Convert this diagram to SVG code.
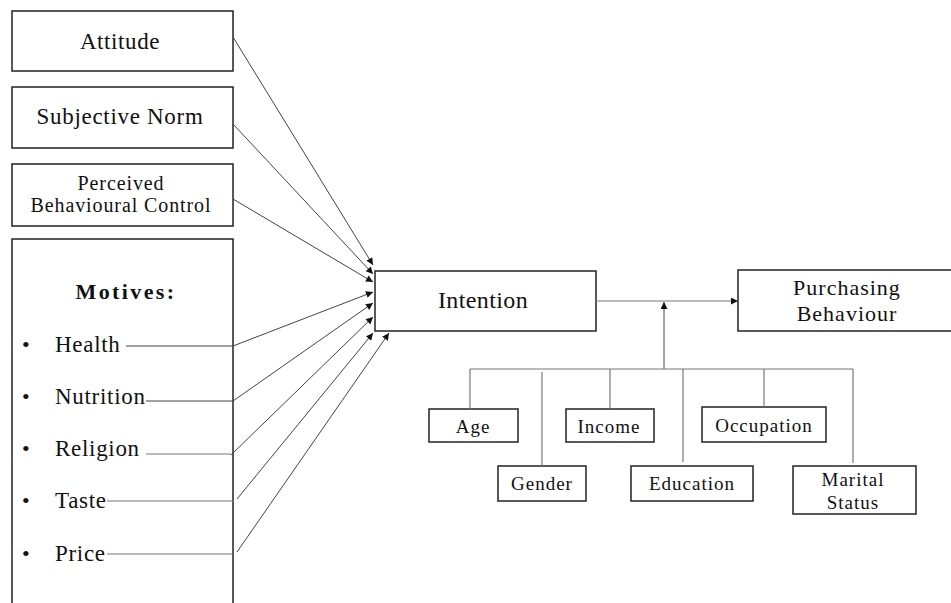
<svg xmlns="http://www.w3.org/2000/svg" width="951" height="603" viewBox="0 0 951 603">
<defs>
<style>
.box{fill:#fff;stroke:#222;stroke-width:1.5}
.t{font-family:"Liberation Serif","Times New Roman",serif;fill:#111;text-anchor:middle}
.l{font-family:"Liberation Serif","Times New Roman",serif;fill:#111;font-size:23px;letter-spacing:0.7px}
.s{font-size:19px;letter-spacing:1px}
.c{fill:none;stroke:#444;stroke-width:1}
.g{fill:none;stroke:#777;stroke-width:1.2}
</style>
<marker id="ah" viewBox="0 0 10 10" refX="10" refY="5" markerWidth="9" markerHeight="7" markerUnits="userSpaceOnUse" orient="auto">
<path d="M0,0 L10,5 L0,10 z" fill="#111"/>
</marker>
</defs>
<rect width="951" height="603" fill="#fff"/>

<g id="attitude">
<rect class="box" x="12" y="11" width="221" height="60"/>
<text class="t" x="120" y="49" font-size="23" letter-spacing="0.6">Attitude</text>
</g>
<g id="subjective-norm">
<rect class="box" x="12" y="87" width="221" height="61"/>
<text class="t" x="120" y="124" font-size="23" letter-spacing="0.7">Subjective Norm</text>
</g>
<g id="pbc">
<rect class="box" x="12" y="164" width="221" height="62"/>
<text class="t" x="121" y="190" font-size="20" letter-spacing="0.9">Perceived</text>
<text class="t" x="121" y="212" font-size="20" letter-spacing="0.9">Behavioural Control</text>
</g>
<g id="motives">
<rect class="box" x="12" y="239" width="221" height="380"/>
<text class="t" x="126" y="299" font-size="22" font-weight="bold" letter-spacing="2.4">Motives:</text>
<g font-family="Liberation Serif, serif" font-size="22" fill="#111">
<text x="22" y="352">•</text>
<text x="22" y="404">•</text>
<text x="22" y="456">•</text>
<text x="22" y="508">•</text>
<text x="22" y="561">•</text>
</g>
<text class="l" x="55" y="352">Health</text>
<text class="l" x="55" y="404">Nutrition</text>
<text class="l" x="55" y="456">Religion</text>
<text class="l" x="55" y="508">Taste</text>
<text class="l" x="55" y="561">Price</text>
</g>
<g id="intention">
<rect class="box" x="375" y="271" width="221" height="60"/>
<text class="t" x="483" y="308" font-size="24" letter-spacing="0.4">Intention</text>
</g>
<g id="purchasing-behaviour">
<rect class="box" x="738" y="270" width="220" height="61"/>
<text class="t" x="847" y="295" font-size="22" letter-spacing="1">Purchasing</text>
<text class="t" x="847" y="321" font-size="22" letter-spacing="1">Behaviour</text>
</g>
<g id="age">
<rect class="box" x="429" y="409" width="89" height="33"/>
<text class="t s" x="473" y="433">Age</text>
</g>
<g id="income">
<rect class="box" x="566" y="409" width="88" height="33"/>
<text class="t s" x="609" y="433">Income</text>
</g>
<g id="occupation">
<rect class="box" x="702" y="407" width="124" height="35"/>
<text class="t s" x="764" y="432">Occupation</text>
</g>
<g id="gender">
<rect class="box" x="498" y="466" width="88" height="35"/>
<text class="t s" x="542" y="490">Gender</text>
</g>
<g id="education">
<rect class="box" x="631" y="466" width="122" height="35"/>
<text class="t s" x="692" y="490">Education</text>
</g>
<g id="marital-status">
<rect class="box" x="793" y="466" width="123" height="48"/>
<text class="t s" x="853" y="486">Marital</text>
<text class="t s" x="853" y="509">Status</text>
</g>

<g id="connectors">
<line class="c" x1="233" y1="37" x2="373" y2="265" marker-end="url(#ah)"/>
<line class="c" x1="233" y1="124" x2="373" y2="274" marker-end="url(#ah)"/>
<line class="c" x1="233" y1="199" x2="373" y2="282" marker-end="url(#ah)"/>
<line class="c" x1="126" y1="346" x2="233" y2="346"/>
<line class="c" x1="233" y1="346" x2="373" y2="292" marker-end="url(#ah)"/>
<line class="c" x1="146" y1="401" x2="233" y2="401"/>
<line class="c" x1="233" y1="401" x2="373" y2="303" marker-end="url(#ah)"/>
<line class="g" x1="146" y1="454" x2="231" y2="454"/>
<line class="c" x1="231" y1="455" x2="373" y2="317" marker-end="url(#ah)"/>
<line class="g" x1="107" y1="501" x2="233" y2="501"/>
<line class="c" x1="237" y1="499" x2="373" y2="333" marker-end="url(#ah)"/>
<line class="g" x1="107" y1="554" x2="233" y2="554"/>
<line class="c" x1="237" y1="552" x2="389" y2="333" marker-end="url(#ah)"/>
<line class="g" x1="596" y1="301" x2="738" y2="301" marker-end="url(#ah)"/>
<line class="c" x1="664" y1="369" x2="664" y2="302" marker-end="url(#ah)"/>
<line class="g" x1="470" y1="369" x2="853" y2="369"/>
<line class="g" x1="470" y1="369" x2="470" y2="409"/>
<line class="g" x1="542" y1="372" x2="542" y2="466"/>
<line class="g" x1="610" y1="369" x2="610" y2="409"/>
<line class="g" x1="683" y1="369" x2="683" y2="462"/>
<line class="g" x1="764" y1="369" x2="764" y2="407"/>
<line class="g" x1="853" y1="369" x2="853" y2="463"/>
</g>
</svg>
